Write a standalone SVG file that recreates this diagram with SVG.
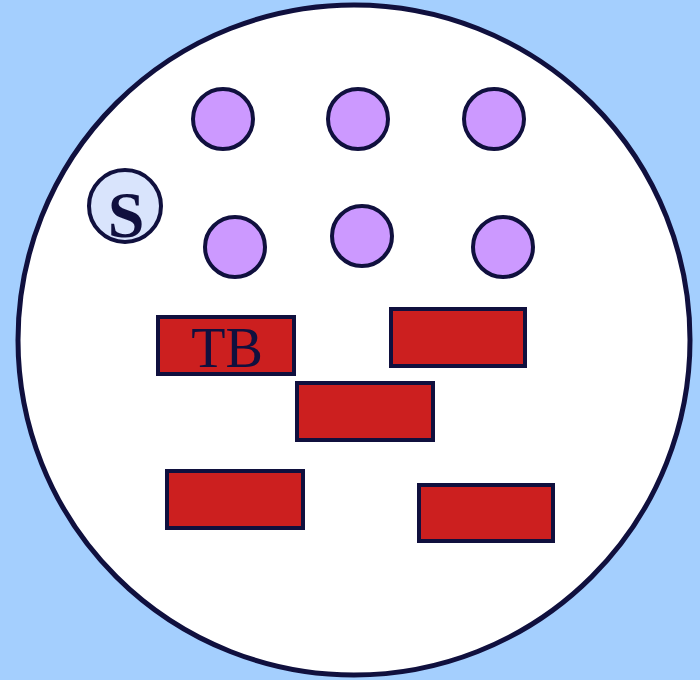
<svg xmlns="http://www.w3.org/2000/svg" width="700" height="680" viewBox="0 0 700 680">
<style>
.ln{stroke:#10103e;stroke-width:4}
.p{fill:#cc99ff}
.r{fill:#cc1f1f}
.t{font-family:"Liberation Serif",serif;fill:#10103e;text-anchor:middle}
</style>
<rect width="700" height="680" fill="#a4cffe"/>
<ellipse id="world" cx="354" cy="340" rx="336" ry="335" fill="#ffffff" stroke="#10103e" stroke-width="5"/>
<g id="S"><circle cx="125" cy="206" r="36" fill="#d9e4fc" class="ln"/><text x="126" y="237" class="t" font-size="66" font-weight="bold">S</text></g>
<g id="p1"><circle cx="223" cy="119" r="30" class="p ln"/></g>
<g id="p2"><circle cx="358" cy="119" r="30" class="p ln"/></g>
<g id="p3"><circle cx="494" cy="119" r="30" class="p ln"/></g>
<g id="p4"><circle cx="235" cy="247" r="30" class="p ln"/></g>
<g id="p5"><circle cx="362" cy="236" r="30" class="p ln"/></g>
<g id="p6"><circle cx="503" cy="247" r="30" class="p ln"/></g>
<g id="TB"><rect x="158" y="317" width="136" height="57" class="r ln"/><text x="227" y="367" class="t" font-size="56">TB</text></g>
<g id="b2"><rect x="391" y="309" width="134" height="57" class="r ln"/></g>
<g id="b3"><rect x="297" y="383" width="136" height="57" class="r ln"/></g>
<g id="b4"><rect x="167" y="471" width="136" height="57" class="r ln"/></g>
<g id="b5"><rect x="419" y="485" width="134" height="56" class="r ln"/></g>
<g id="connectors"></g>
</svg>
